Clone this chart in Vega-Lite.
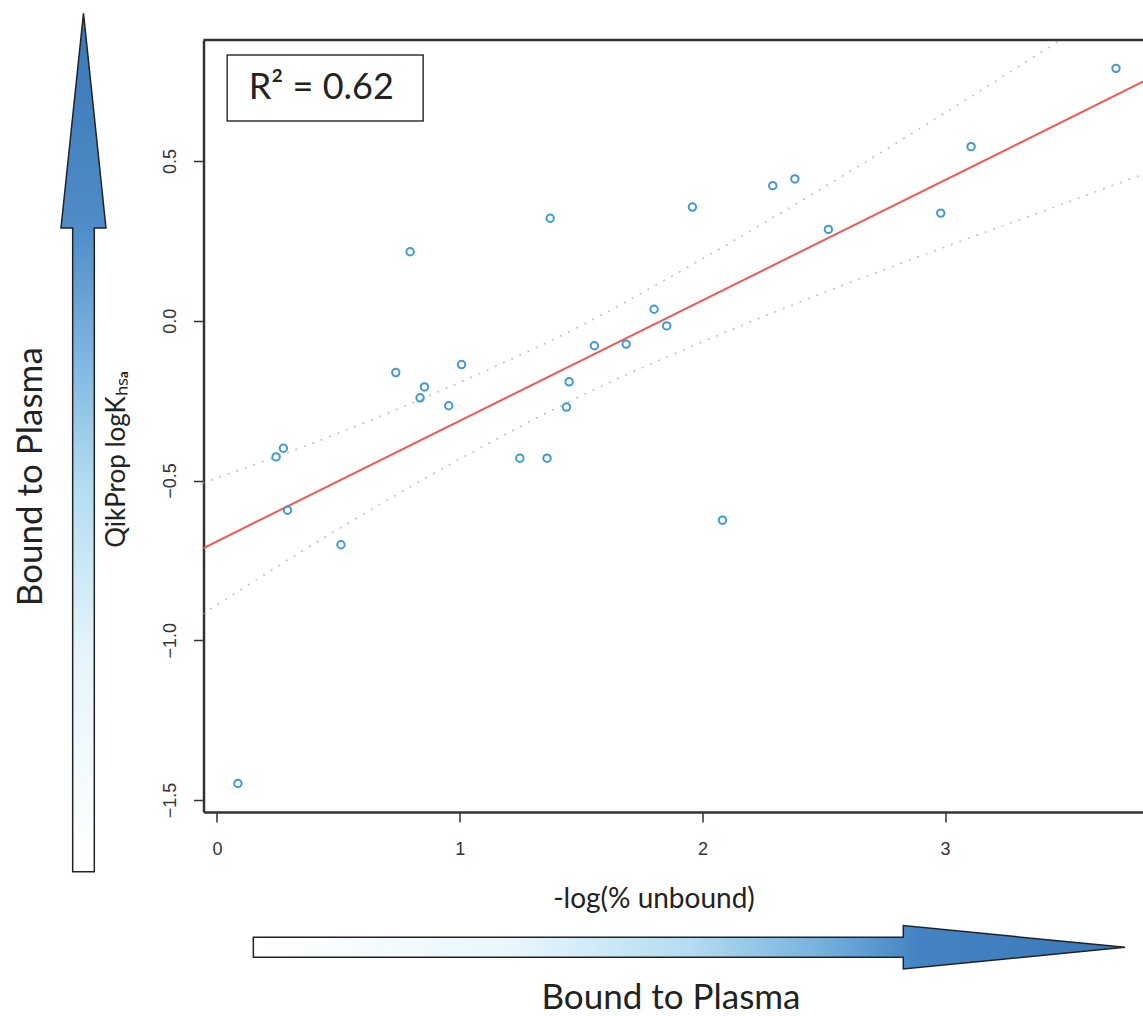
{
  "$schema": "https://vega.github.io/schema/vega-lite/v6.json",
  "autosize": "none",
  "width": 939.5,
  "height": 772,
  "padding": {"left": 203.5, "top": 40, "right": 0, "bottom": 204},
  "background": "white",
  "config": {"view": {"stroke": null}, "axis": {"grid": false}},
  "datasets": {
    "pts": [
      {"x": 0.0865, "y": -1.448}, {"x": 0.244, "y": -0.426}, {"x": 0.274, "y": -0.399},
      {"x": 0.291, "y": -0.593}, {"x": 0.511, "y": -0.701}, {"x": 0.737, "y": -0.162},
      {"x": 0.796, "y": 0.216}, {"x": 0.837, "y": -0.241}, {"x": 0.855, "y": -0.207},
      {"x": 0.955, "y": -0.266}, {"x": 1.008, "y": -0.137}, {"x": 1.248, "y": -0.43},
      {"x": 1.36, "y": -0.43}, {"x": 1.373, "y": 0.321}, {"x": 1.44, "y": -0.27},
      {"x": 1.451, "y": -0.191}, {"x": 1.555, "y": -0.078}, {"x": 1.686, "y": -0.073},
      {"x": 1.801, "y": 0.036}, {"x": 1.853, "y": -0.016}, {"x": 1.959, "y": 0.356},
      {"x": 2.083, "y": -0.624}, {"x": 2.29, "y": 0.423}, {"x": 2.381, "y": 0.444},
      {"x": 2.519, "y": 0.286}, {"x": 2.982, "y": 0.337}, {"x": 3.107, "y": 0.545},
      {"x": 3.704, "y": 0.79}
    ],
    "fit": [{"x": -0.06, "y": -0.713}, {"x": 3.82, "y": 0.75}],
    "band": [
      {"band": "upper", "x": -0.06, "y": -0.508}, {"band": "upper", "x": 0.5, "y": -0.352},
      {"band": "upper", "x": 1.0, "y": -0.193}, {"band": "upper", "x": 1.5, "y": -0.015},
      {"band": "upper", "x": 2.0, "y": 0.194}, {"band": "upper", "x": 2.5, "y": 0.418},
      {"band": "upper", "x": 3.0, "y": 0.651}, {"band": "upper", "x": 3.5, "y": 0.89},
      {"band": "upper", "x": 3.82, "y": 1.04},
      {"band": "lower", "x": -0.06, "y": -0.918}, {"band": "lower", "x": 0.5, "y": -0.652},
      {"band": "lower", "x": 1.0, "y": -0.433}, {"band": "lower", "x": 1.5, "y": -0.235},
      {"band": "lower", "x": 2.0, "y": -0.066}, {"band": "lower", "x": 2.5, "y": 0.088},
      {"band": "lower", "x": 3.0, "y": 0.231}, {"band": "lower", "x": 3.5, "y": 0.37},
      {"band": "lower", "x": 3.82, "y": 0.46}
    ]
  },
  "layer": [
    {
      "data": {"name": "band"},
      "mark": {"type": "line", "clip": true, "color": "#c8c8c8", "strokeWidth": 1.8, "strokeDash": [2, 7], "interpolate": "monotone"},
      "encoding": {
        "x": {
          "field": "x", "type": "quantitative",
          "scale": {"domain": [-0.0552, 3.8152], "nice": false, "zero": false},
          "axis": {
            "values": [0, 1, 2, 3], "format": "d", "domain": true, "domainColor": "#333", "domainWidth": 2.5,
            "ticks": true, "tickColor": "#333", "tickWidth": 1.5, "tickSize": 10,
            "labelFont": "Liberation Sans", "labelFontSize": 18, "labelColor": "#333", "labelPadding": 18,
            "labelBaseline": "top",
            "title": "-log(% unbound)", "titleFont": "Lato", "titleFontSize": 28, "titleFontWeight": "normal",
            "titleColor": "#222", "titleX": 450, "titleY": 95, "titleAlign": "center", "titleBaseline": "alphabetic"
          }
        },
        "y": {
          "field": "y", "type": "quantitative",
          "scale": {"domain": [-1.5373, 0.8788], "nice": false, "zero": false},
          "axis": {
            "values": [-1.5, -1, -0.5, 0, 0.5], "format": ".1f", "domain": true, "domainColor": "#333", "domainWidth": 2.5,
            "ticks": true, "tickColor": "#333", "tickWidth": 1.5, "tickSize": 10,
            "labelFont": "Liberation Sans", "labelFontSize": 18, "labelColor": "#333", "labelPadding": 18,
            "labelAngle": 270, "labelAlign": "center", "labelBaseline": "alphabetic",
            "title": "QikProp logKₕₛₐ", "titleFont": "Lato", "titleFontSize": 26, "titleFontWeight": "normal",
            "titleColor": "#222", "titleAngle": 270, "titleX": -79, "titleY": 419, "titleAlign": "center", "titleBaseline": "alphabetic"
          }
        },
        "detail": {"field": "band"}
      }
    },
    {
      "data": {"name": "fit"},
      "mark": {"type": "line", "clip": true, "color": "#f05858", "strokeWidth": 2},
      "encoding": {
        "x": {"field": "x", "type": "quantitative"},
        "y": {"field": "y", "type": "quantitative"}
      }
    },
    {
      "data": {"name": "pts"},
      "mark": {"type": "point", "filled": false, "stroke": "#3f9ad4", "strokeWidth": 2, "size": 55, "opacity": 1},
      "encoding": {
        "x": {"field": "x", "type": "quantitative"},
        "y": {"field": "y", "type": "quantitative"}
      }
    },
    {
      "data": {"values": [{}]},
      "mark": {"type": "rule", "color": "#333", "strokeWidth": 2.5},
      "encoding": {"y": {"datum": 0.8788}}
    },
    {
      "data": {"values": [{}]},
      "mark": {"type": "rect", "fill": "white", "stroke": "#333", "strokeWidth": 1.5},
      "encoding": {
        "x": {"datum": 0.0424}, "x2": {"datum": 0.8497},
        "y": {"datum": 0.8319}, "y2": {"datum": 0.6252}
      }
    },
    {
      "data": {"values": [{"label": "R² = 0.62"}]},
      "mark": {"type": "text", "font": "Lato", "fontSize": 36, "color": "#222", "align": "center", "baseline": "middle"},
      "encoding": {
        "x": {"datum": 0.43},
        "y": {"datum": 0.7286},
        "text": {"field": "label"}
      }
    },
    {
      "data": {"values": [{}]},
      "mark": {
        "type": "point", "clip": false, "opacity": 1, "filled": true,
        "shape": "M-0.0252,1 L-0.0252,-0.4998 L-0.0524,-0.4998 L0,-1 L0.0524,-0.4998 L0.0252,-0.4998 L0.0252,1 Z",
        "size": 736851,
        "fill": {"gradient": "linear", "x1": 0, "y1": 1, "x2": 0, "y2": 0,
          "stops": [
            {"offset": 0, "color": "#ffffff"}, {"offset": 0.25, "color": "#e6f5fb"},
            {"offset": 0.45, "color": "#b3dcf1"}, {"offset": 0.6, "color": "#7fb5df"},
            {"offset": 0.75, "color": "#4f8cc8"}, {"offset": 1, "color": "#3a78b8"}
          ]},
        "stroke": "#222", "strokeWidth": 1.5
      },
      "encoding": {
        "x": {"datum": -0.5496},
        "y": {"datum": -0.3809}
      }
    },
    {
      "data": {"values": [{}]},
      "mark": {
        "type": "point", "clip": false, "opacity": 1, "filled": true,
        "shape": "M-1,-0.0229 L0.4912,-0.0229 L0.4912,-0.0497 L1,0 L0.4912,0.0497 L0.4912,0.0229 L-1,0.0229 Z",
        "size": 759861,
        "fill": {"gradient": "linear", "x1": 0, "y1": 0, "x2": 1, "y2": 0,
          "stops": [
            {"offset": 0, "color": "#ffffff"}, {"offset": 0.3, "color": "#e8f6fb"},
            {"offset": 0.5, "color": "#b3dcf1"}, {"offset": 0.65, "color": "#76b1dd"},
            {"offset": 0.76, "color": "#4584c4"}, {"offset": 1, "color": "#3a78b8"}
          ]},
        "stroke": "#222", "strokeWidth": 1.5
      },
      "encoding": {
        "x": {"datum": 1.9457},
        "y": {"datum": -1.9607}
      }
    },
    {
      "data": {"values": [{"label": "Bound to Plasma"}]},
      "mark": {"type": "text", "clip": false, "font": "Lato", "fontSize": 35, "color": "#222", "align": "center", "baseline": "alphabetic", "angle": 270},
      "encoding": {
        "x": {"datum": -0.7218},
        "y": {"datum": -0.488},
        "text": {"field": "label"}
      }
    },
    {
      "data": {"values": [{"label": "Bound to Plasma"}]},
      "mark": {"type": "text", "clip": false, "font": "Lato", "fontSize": 35, "color": "#222", "align": "center", "baseline": "alphabetic"},
      "encoding": {
        "x": {"datum": 1.8707},
        "y": {"datum": -2.153},
        "text": {"field": "label"}
      }
    }
  ]
}
